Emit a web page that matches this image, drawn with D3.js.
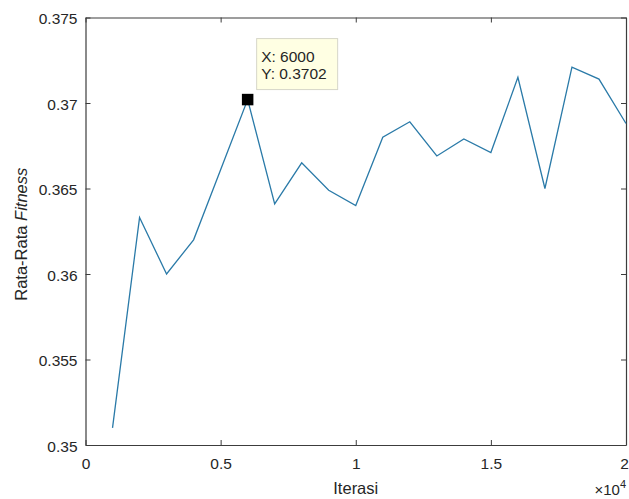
<!DOCTYPE html>
<html>
<head>
<meta charset="utf-8">
<script src="https://cdn.jsdelivr.net/npm/d3@7"></script>
<style>
  html, body { margin: 0; padding: 0; background: #fff; }
  svg { display: block; font-family: "Liberation Sans", Arial, Helvetica, sans-serif; }
</style>
</head>
<body>
<svg id="chart" width="629" height="499"></svg>
<script>
// Iteration counts and mean fitness per run
const iterations = [1000, 2000, 3000, 4000, 5000, 6000, 7000, 8000, 9000, 10000,
                    11000, 12000, 13000, 14000, 15000, 16000, 17000, 18000, 19000, 20000];
const meanFitness = [0.3510, 0.3633, 0.3600, 0.3620, 0.3661, 0.3702, 0.3641, 0.3665, 0.3649, 0.3640,
                     0.3680, 0.3689, 0.3669, 0.3679, 0.3671, 0.3715, 0.3650, 0.3721, 0.3714, 0.3688];
const xTicks = [0, 5000, 10000, 15000, 20000];
const yTicks = [0.35, 0.355, 0.36, 0.365, 0.37, 0.375];
const xTickLabels = ["0", "0.5", "1", "1.5", "2"];
const tipIndex = 5; // data tip on the 6000-iteration point

const svg = d3.select("#chart");
const m = { left: 85.5, right: 626, top: 17.5, bottom: 445 };
const axisColor = "#3c3c3c";
const textColor = "#262626";
const tickFont = "15.5px";
const titleFont = "16.5px";

const x = d3.scaleLinear().domain([0, 20000]).range([m.left, m.right]);
const y = d3.scaleLinear().domain([0.35, 0.375]).range([m.bottom, m.top]);

// Axes box: ticks point inward on all four sides, labels on bottom and left only
const bottomAxis = d3.axisBottom(x).tickValues(xTicks).tickSizeInner(-5).tickSizeOuter(0)
  .tickFormat((d, i) => xTickLabels[i]).tickPadding(13);
const topAxis = d3.axisTop(x).tickValues(xTicks).tickSizeInner(-5).tickSizeOuter(0).tickFormat("");
const leftAxis = d3.axisLeft(y).tickValues(yTicks).tickSizeInner(-5).tickSizeOuter(0)
  .tickFormat(d => String(+d.toFixed(3))).tickPadding(8);
const rightAxis = d3.axisRight(y).tickValues(yTicks).tickSizeInner(-5).tickSizeOuter(0).tickFormat("");

function styleAxis(g) {
  g.select(".domain").attr("stroke", axisColor).attr("stroke-width", 1.2);
  g.selectAll(".tick line").attr("stroke", axisColor).attr("stroke-width", 1);
  g.selectAll(".tick text").attr("fill", textColor).style("font-size", tickFont)
    .style("font-family", "'Liberation Sans', Arial, sans-serif");
}

const gx = svg.append("g").attr("transform", `translate(0,${m.bottom})`).call(bottomAxis).call(styleAxis);
// keep the last label inside the canvas edge
gx.selectAll(".tick text").filter(d => d === 20000).attr("dx", "-2");
svg.append("g").attr("transform", `translate(0,${m.top})`).call(topAxis).call(styleAxis);
svg.append("g").attr("transform", `translate(${m.left},0)`).call(leftAxis).call(styleAxis)
  .selectAll(".tick text").attr("dy", "0.4em");
svg.append("g").attr("transform", `translate(${m.right},0)`).call(rightAxis).call(styleAxis);

// Fitness line
const line = d3.line().x((d, i) => x(iterations[i])).y(d => y(d));
svg.append("path")
  .datum(meanFitness)
  .attr("fill", "none")
  .attr("stroke", "#2a7aa8")
  .attr("stroke-width", 1.3)
  .attr("stroke-linejoin", "miter")
  .attr("d", line);

// Data tip marker and box
const tx = x(iterations[tipIndex]), ty = y(meanFitness[tipIndex]);
svg.append("rect")
  .attr("x", tx - 5.75).attr("y", ty - 5.75).attr("width", 11.5).attr("height", 11.5)
  .attr("fill", "#000");

const tip = svg.append("g").attr("transform", `translate(${tx + 9},${ty - 61})`);
tip.append("rect")
  .attr("x", 0).attr("y", 0).attr("width", 81).attr("height", 51)
  .attr("fill", "#ffffe3").attr("stroke", "#d6d6c8").attr("stroke-width", 1);
tip.append("text").attr("x", 4.5).attr("y", 23)
  .attr("fill", textColor).style("font-size", tickFont)
  .text("X: " + iterations[tipIndex]);
tip.append("text").attr("x", 4.5).attr("y", 40)
  .attr("fill", textColor).style("font-size", tickFont)
  .text("Y: " + meanFitness[tipIndex].toFixed(4));

// Axis titles
svg.append("text")
  .attr("x", (m.left + m.right) / 2).attr("y", 494)
  .attr("text-anchor", "middle").attr("fill", textColor)
  .style("font-size", titleFont).text("Iterasi");

const yTitle = svg.append("text")
  .attr("transform", `translate(27,${(m.top + m.bottom) / 2 + 3}) rotate(-90)`)
  .attr("text-anchor", "middle").attr("fill", textColor)
  .style("font-size", titleFont);
yTitle.append("tspan").text("Rata-Rata ");
yTitle.append("tspan").style("font-style", "italic").text("Fitness");

// Exponent label for the x axis
const expo = svg.append("text")
  .attr("x", m.right).attr("y", 495)
  .attr("text-anchor", "end").attr("fill", textColor)
  .style("font-size", "15px");
expo.append("tspan").text("\u00d710");
expo.append("tspan").attr("dy", -7).style("font-size", "11px").text("4");
</script>
</body>
</html>
